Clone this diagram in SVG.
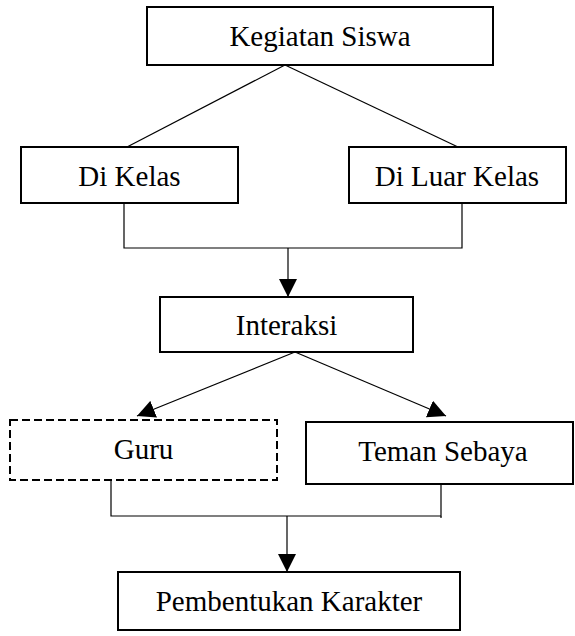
<svg xmlns="http://www.w3.org/2000/svg" width="575" height="636" viewBox="0 0 575 636">
<style>
.box{fill:#fff;stroke:#000;stroke-width:2}
.dash{fill:#fff;stroke:#000;stroke-width:2;stroke-dasharray:8 4}
.lbl{font-family:"Liberation Serif","Times New Roman",serif;font-size:29px;fill:#000;text-anchor:middle}
.ln{fill:none;stroke:#000;stroke-width:1.2}
</style>
<defs>
<marker id="ah" markerUnits="userSpaceOnUse" markerWidth="18" markerHeight="18" refX="18" refY="9" orient="auto" viewBox="0 0 18 18">
<path d="M0,0 L18,9 L0,18 z" fill="#000"/>
</marker>
</defs>
<rect width="575" height="636" fill="#fff"/>
<g id="connectors">
<path class="ln" d="M285,65 L127,147"/>
<path class="ln" d="M285,65 L458,147"/>
<path class="ln" d="M124,203 V248 H462 V203"/>
<path class="ln" d="M288,248 V297" marker-end="url(#ah)"/>
<path class="ln" d="M295,352 L137,416" marker-end="url(#ah)"/>
<path class="ln" d="M295,352 L446,416" marker-end="url(#ah)"/>
<path class="ln" d="M111,480 V516 H441 V484"/>
<path class="ln" d="M441,516 V518"/>
<path class="ln" d="M287,516 V572" marker-end="url(#ah)"/>
</g>
<g id="kegiatan"><rect class="box" x="147" y="7" width="346" height="58"/><text class="lbl" x="320" y="45.5">Kegiatan Siswa</text></g>
<g id="dikelas"><rect class="box" x="21" y="147" width="217" height="56"/><text class="lbl" x="129.5" y="186">Di Kelas</text></g>
<g id="diluarkelas"><rect class="box" x="349" y="147" width="217" height="56"/><text class="lbl" x="457" y="186">Di Luar Kelas</text></g>
<g id="interaksi"><rect class="box" x="160" y="297" width="253" height="55"/><text class="lbl" x="286.5" y="335">Interaksi</text></g>
<g id="guru"><rect class="dash" x="10" y="420" width="267" height="60"/><text class="lbl" x="143.5" y="459">Guru</text></g>
<g id="teman"><rect class="box" x="306" y="422" width="267" height="62"/><text class="lbl" x="443" y="461">Teman Sebaya</text></g>
<g id="pembentukan"><rect class="box" x="118" y="572" width="342" height="58"/><text class="lbl" x="289" y="610.5">Pembentukan Karakter</text></g>
</svg>
